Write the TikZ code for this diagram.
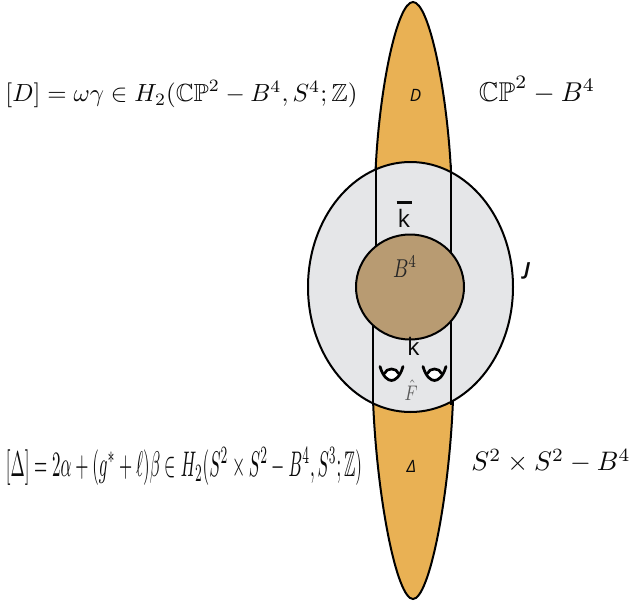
\documentclass[tikz,border=0pt]{standalone}
\usepackage{amsmath,amssymb}
\usepackage{graphicx}
\usepackage{fontspec}
\usetikzlibrary{shapes.geometric}
\setsansfont{Open Sans}
\definecolor{petal}{RGB}{233,177,84}
\definecolor{disc}{RGB}{229,230,232}
\definecolor{ball}{RGB}{184,155,114}
\definecolor{ink}{RGB}{10,10,10}
\tikzset{
  outline/.style={draw=black,line width=2pt},
  wall/.style={draw=black,line width=2pt},
  lbl/.style={inner sep=0pt,outer sep=0pt,text=ink},
  cup/.style={draw=black,line width=2.7pt,line join=round,line cap=round}
}
\begin{document}
\begin{tikzpicture}[x=1pt,y=-1pt]
\useasboundingbox (0,0) rectangle (630,603);
% petals
\path[outline,fill=petal] (375.5,172) .. controls (379,90) and (397,2) .. (413,2) .. controls (429,2) and (447,90) .. (451,172) -- cycle;
\path[outline,fill=petal] (373,400) .. controls (377,500) and (397,599) .. (413,599) .. controls (429,599) and (449,500) .. (453,400) -- cycle;
% disc
\node[outline,fill=disc,ellipse,minimum width=205pt,minimum height=250pt,inner sep=0pt] (J) at (410.5,287) {};
% walls
\coordinate (tl) at (375.5,165);\coordinate (tlb) at (375.5,255);
\coordinate (tr) at (451,165);\coordinate (trb) at (451,255);
\coordinate (bl) at (373,315);\coordinate (blb) at (373,405);
\coordinate (br) at (451,315);\coordinate (brb) at (451,405);
\draw[wall] (tl) -- (tlb);
\draw[wall] (tr) -- (trb);
\draw[wall] (bl) -- (blb);
\draw[wall] (br) -- (brb);
% ball
\node[outline,fill=ball,ellipse,minimum width=108pt,minimum height=105pt,inner sep=0pt] (B) at (410,287) {};
% cups
\path[fill=white] (385,375) .. controls (386,366) and (398,366) .. (399,375) .. controls (397,380) and (387,380) .. (385,375) -- cycle;
\path[cup] (380,366.5) .. controls (383,377) and (388,380.5) .. (391.5,380.5) .. controls (395,380.5) and (400,377) .. (403,366.5);
\path[cup] (384.5,373.5) .. controls (386,367.5) and (397,367.5) .. (398.5,373.5);
\path[fill=white] (428,375) .. controls (429,366) and (441,366) .. (442,375) .. controls (440,380) and (430,380) .. (428,375) -- cycle;
\path[cup] (423,366.5) .. controls (426,377) and (431,380.5) .. (434.5,380.5) .. controls (438,380.5) and (443,377) .. (446,366.5);
\path[cup] (427.5,373.5) .. controls (429,367.5) and (440,367.5) .. (441.5,373.5);
% labels
\node[lbl] (l1) at (181.5,94) {\resizebox{352pt}{!}{$[D]=\omega\gamma\in H_2(\mathbb{CP}^2-B^4,S^4;\mathbb{Z})$}};
\node[lbl] (l2) at (184,466) {\resizebox{356pt}{29pt}{$[\Delta]=2\alpha+(g^*+\ell)\beta\in H_2(S^2\times S^2-B^4,S^3;\mathbb{Z})$}};
\node[lbl] (l3) at (537,90) {\resizebox{116pt}{!}{$\mathbb{CP}^2-B^4$}};
\node[lbl] (l4) at (551,461) {\resizebox{159pt}{!}{$S^2\times S^2-B^4$}};
\node[lbl,font=\sffamily\itshape\fontsize{17}{17}\selectfont] (d) at (415.5,95) {D};
\node[lbl,font=\sffamily\itshape\fontsize{17}{17}\selectfont] (del) at (411.5,466.5) {Δ};
\node[lbl,font=\sffamily\bfseries\itshape\fontsize{18}{18}\selectfont] (j) at (527,271) {J};
\node[lbl,align=center,font=\sffamily\fontsize{24}{24}\selectfont] (kb) at (404,214.5) {\rule{15pt}{2.3pt}\\k};
\node[lbl,font=\sffamily\fontsize{24}{24}\selectfont] (k) at (413.5,346.5) {k};
\node[lbl,text=black!65] (f) at (411,390) {\resizebox{13pt}{20pt}{$\hat F$}};
\node[lbl,text=black!85] (b4) at (405,266.5) {\resizebox{24pt}{21pt}{$B^4$}};
\end{tikzpicture}
\end{document}
